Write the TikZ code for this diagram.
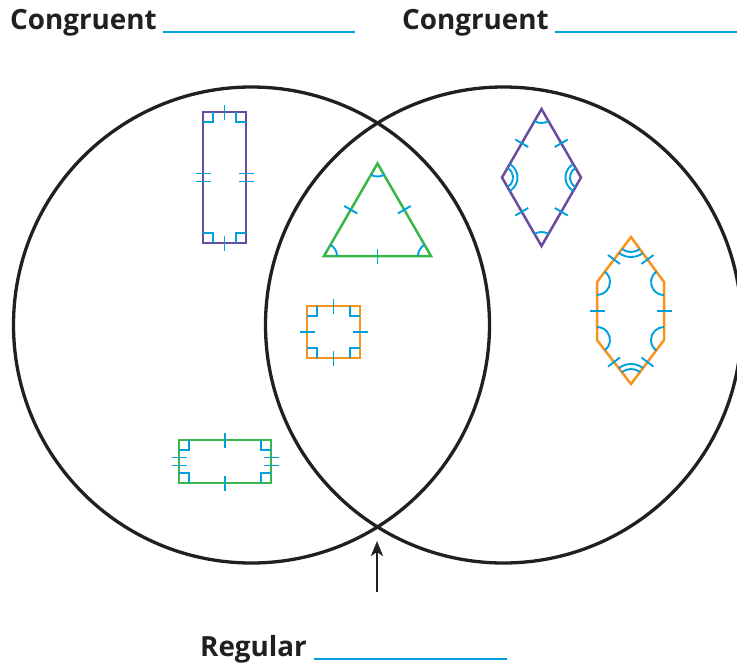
\documentclass[tikz,border=0pt]{standalone}
\usepackage{fontspec}
\setmainfont{Open Sans}
\usetikzlibrary{calc,angles,arrows.meta}
\definecolor{ink}{HTML}{231F20}
\definecolor{markblue}{HTML}{00A0DF}
\definecolor{shpurple}{HTML}{6A4C9C}
\definecolor{shgreen}{HTML}{3AB54A}
\definecolor{shorange}{HTML}{F7941D}

\tikzset{
  ring/.style={draw=ink, line width=3.3pt},
  shapeline/.style={line width=2.5pt, line join=miter},
  tickmark/.style={draw=markblue, line width=1.9pt},
  arcmark/.style={draw=markblue, line width=1.9pt},
  blank/.style={draw=markblue, line width=2.2pt},
  heading/.style={font=\fontsize{27.8}{32}\selectfont\bfseries, text=ink, inner sep=0pt, anchor=base west},
}

% one tick across the middle of segment #1--#2
\newcommand\singletick[2]{%
  \path ($(#1)!0.5!(#2)$) coordinate (tkm);
  \draw[tickmark] ($(tkm)!7.5pt!90:(#2)$) -- ($(tkm)!7.5pt!-90:(#2)$);}
% two ticks across the middle of segment #1--#2
\newcommand\doubletick[2]{%
  \path ($(#1)!0.5!(#2)$) coordinate (tkm);
  \path ($(tkm)!4pt!(#1)$) coordinate (tkp) ($(tkm)!4pt!(#2)$) coordinate (tkq);
  \draw[tickmark] ($(tkp)!7.5pt!90:(#2)$) -- ($(tkp)!7.5pt!-90:(#2)$);
  \draw[tickmark] ($(tkq)!7.5pt!90:(#2)$) -- ($(tkq)!7.5pt!-90:(#2)$);}

\begin{document}
\begin{tikzpicture}[x=1pt,y=1pt]
\useasboundingbox (0,0) rectangle (737,-665);

% headings with blanks
\node[heading] (cong1) at (10,-29) {Congruent};
\node[heading] (cong2) at (402,-29) {Congruent};
\node[heading] (reg) at (200,-656) {Regular};
\coordinate (b1a) at (163,-32); \coordinate (b1b) at (355,-32);
\coordinate (b2a) at (555,-32); \coordinate (b2b) at (737,-32);
\coordinate (b3a) at (314,-659); \coordinate (b3b) at (507,-659);
\draw[blank] (b1a) -- (b1b);
\draw[blank] (b2a) -- (b2b);
\draw[blank] (b3a) -- (b3b);

% Venn circles
\coordinate (lc) at (251.5,-325);
\coordinate (rc) at (503.5,-325);
\draw[ring] (lc) circle[radius=238];
\draw[ring] (rc) circle[radius=238];

% arrow to the lower intersection
\coordinate (arrowfoot) at (377,-592);
\coordinate (arrowtip) at (377,-541);
\draw[ink, line width=2.5pt, -{Stealth[length=15pt,width=12pt,inset=4pt]}] (arrowfoot) -- (arrowtip);

% purple rectangle
\coordinate (pa) at (203,-243); \coordinate (pb) at (246,-243);
\coordinate (pc) at (246,-112); \coordinate (pd) at (203,-112);
\draw[shapeline, shpurple] (pa) -- (pb) -- (pc) -- (pd) -- cycle;
\pic[arcmark, angle radius=10pt] {right angle = pb--pa--pd};
\pic[arcmark, angle radius=10pt] {right angle = pc--pb--pa};
\pic[arcmark, angle radius=10pt] {right angle = pd--pc--pb};
\pic[arcmark, angle radius=10pt] {right angle = pa--pd--pc};
\singletick{pd}{pc} \singletick{pa}{pb}
\doubletick{pd}{pa} \doubletick{pb}{pc}

% green triangle
\coordinate (ga) at (324,-256); \coordinate (gb) at (431,-256);
\coordinate (gc) at (377.5,-163.5);
\draw[shapeline, shgreen] (ga) -- (gb) -- (gc) -- cycle;
\pic[arcmark, angle radius=13pt] {angle = gb--ga--gc};
\pic[arcmark, angle radius=13pt] {angle = gc--gb--ga};
\pic[arcmark, angle radius=13pt] {angle = ga--gc--gb};
\singletick{ga}{gb} \singletick{gb}{gc} \singletick{gc}{ga}

% orange square
\coordinate (sa) at (307,-358); \coordinate (sb) at (360,-358);
\coordinate (sc) at (360,-306); \coordinate (sd) at (307,-306);
\draw[shapeline, shorange] (sa) -- (sb) -- (sc) -- (sd) -- cycle;
\pic[arcmark, angle radius=10pt] {right angle = sb--sa--sd};
\pic[arcmark, angle radius=10pt] {right angle = sc--sb--sa};
\pic[arcmark, angle radius=10pt] {right angle = sd--sc--sb};
\pic[arcmark, angle radius=10pt] {right angle = sa--sd--sc};
\singletick{sa}{sb} \singletick{sb}{sc} \singletick{sc}{sd} \singletick{sd}{sa}

% green rectangle
\coordinate (ra) at (179,-483); \coordinate (rb) at (271,-483);
\coordinate (rcc) at (271,-440); \coordinate (rd) at (179,-440);
\draw[shapeline, shgreen] (ra) -- (rb) -- (rcc) -- (rd) -- cycle;
\pic[arcmark, angle radius=10pt] {right angle = rb--ra--rd};
\pic[arcmark, angle radius=10pt] {right angle = rcc--rb--ra};
\pic[arcmark, angle radius=10pt] {right angle = rd--rcc--rb};
\pic[arcmark, angle radius=10pt] {right angle = ra--rd--rcc};
\singletick{ra}{rb} \singletick{rcc}{rd}
\doubletick{rb}{rcc} \doubletick{rd}{ra}

% purple rhombus
\coordinate (ha) at (541.5,-246); \coordinate (hb) at (581,-177.5);
\coordinate (hc) at (541.5,-109); \coordinate (hd) at (502,-177.5);
\draw[shapeline, shpurple] (ha) -- (hb) -- (hc) -- (hd) -- cycle;
\pic[arcmark, angle radius=14pt] {angle = hb--ha--hd};
\pic[arcmark, angle radius=14pt] {angle = hd--hc--hb};
\pic[arcmark, angle radius=11pt] {angle = hc--hb--ha};
\pic[arcmark, angle radius=15.5pt] {angle = hc--hb--ha};
\pic[arcmark, angle radius=11pt] {angle = ha--hd--hc};
\pic[arcmark, angle radius=15.5pt] {angle = ha--hd--hc};
\singletick{ha}{hb} \singletick{hb}{hc} \singletick{hc}{hd} \singletick{hd}{ha}

% orange hexagon
\coordinate (xa) at (631,-384); \coordinate (xb) at (664,-340);
\coordinate (xc) at (664,-282); \coordinate (xd) at (631,-237);
\coordinate (xe) at (597,-282); \coordinate (xf) at (597,-340);
\draw[shapeline, shorange] (xa) -- (xb) -- (xc) -- (xd) -- (xe) -- (xf) -- cycle;
\pic[arcmark, angle radius=15pt] {angle = xb--xa--xf};
\pic[arcmark, angle radius=20pt] {angle = xb--xa--xf};
\pic[arcmark, angle radius=15pt] {angle = xe--xd--xc};
\pic[arcmark, angle radius=20pt] {angle = xe--xd--xc};
\pic[arcmark, angle radius=13pt] {angle = xc--xb--xa};
\pic[arcmark, angle radius=13pt] {angle = xd--xc--xb};
\pic[arcmark, angle radius=13pt] {angle = xf--xe--xd};
\pic[arcmark, angle radius=13pt] {angle = xa--xf--xe};
\singletick{xa}{xb} \singletick{xb}{xc} \singletick{xc}{xd}
\singletick{xd}{xe} \singletick{xe}{xf} \singletick{xf}{xa}
\end{tikzpicture}
\end{document}
